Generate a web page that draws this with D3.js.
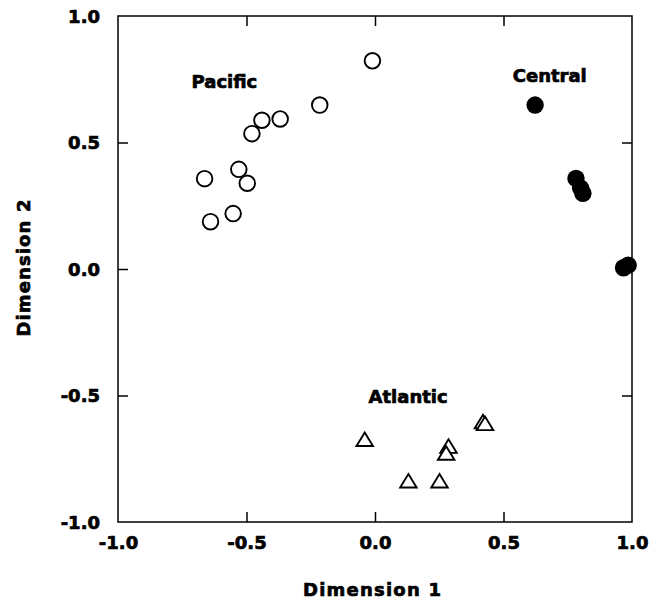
<!DOCTYPE html>
<html>
<head>
<meta charset="utf-8">
<script src="https://cdn.jsdelivr.net/npm/d3@7"></script>
<style>
  html, body { margin: 0; padding: 0; background: #fff; }
  svg { display: block; }
  text { font-family: "DejaVu Sans", sans-serif; font-weight: bold; fill: #000; }
</style>
</head>
<body>
<svg id="chart" width="664" height="602"></svg>
<script>
// ---- data ----
const pacificX = [-0.010, -0.215, -0.369, -0.440, -0.479, -0.663, -0.530, -0.497, -0.552, -0.640];
const pacificY = [ 0.823,  0.648,  0.593,  0.588,  0.535,  0.357,  0.394,  0.339,  0.219,  0.187];
const centralX = [0.623, 0.782, 0.800, 0.809, 0.967, 0.985];
const centralY = [0.648, 0.358, 0.320, 0.299, 0.005, 0.015];
const atlanticX = [-0.040, 0.130, 0.251, 0.286, 0.277, 0.420, 0.428];
const atlanticY = [-0.673, -0.837, -0.837, -0.700, -0.727, -0.603, -0.610];
const groupNames = ["Pacific", "Central", "Atlantic"];
const groupLabelX = [-0.586, 0.680, 0.129];
const groupLabelY = [0.715, 0.740, -0.531];
const tickValues = [-1.0, -0.5, 0.0, 0.5, 1.0];
const xTitle = "Dimension  1";
const yTitle = "Dimension  2";

// ---- layout ----
const svg = d3.select("#chart");
const x = d3.scaleLinear().domain([-1, 1]).range([118, 632]);
const y = d3.scaleLinear().domain([-1, 1]).range([522, 16]);
const fmt = v => d3.format(".1f")(v).replace("\u2212", "-");
const tickLen = 10;
const fontSize = 18;
const textStroke = 0.7;

// frame
svg.append("rect")
  .attr("x", x(-1)).attr("y", y(1))
  .attr("width", x(1) - x(-1)).attr("height", y(-1) - y(1))
  .attr("fill", "none").attr("stroke", "#000").attr("stroke-width", 1.5);

// axes with inward ticks
const bottomAxis = svg.append("g").attr("transform", `translate(0,${y(-1)})`)
  .call(d3.axisBottom(x).tickValues(tickValues).tickSize(-tickLen).tickPadding(20).tickFormat(fmt));
const leftAxis = svg.append("g").attr("transform", `translate(${x(-1)},0)`)
  .call(d3.axisLeft(y).tickValues(tickValues).tickSize(-tickLen).tickPadding(18).tickFormat(fmt));
const topAxis = svg.append("g").attr("transform", `translate(0,${y(1)})`)
  .call(d3.axisTop(x).tickValues(tickValues).tickSize(-tickLen).tickFormat(""));
const rightAxis = svg.append("g").attr("transform", `translate(${x(1)},0)`)
  .call(d3.axisRight(y).tickValues(tickValues).tickSize(-tickLen).tickFormat(""));

[bottomAxis, leftAxis, topAxis, rightAxis].forEach(g => {
  g.select(".domain").remove();
  g.selectAll(".tick line").attr("stroke", "#000").attr("stroke-width", 1.5);
  g.selectAll("text")
    .attr("font-family", "DejaVu Sans, sans-serif")
    .attr("font-weight", "bold")
    .attr("font-size", fontSize)
    .attr("fill", "#000")
    .attr("stroke", "#000").attr("stroke-width", textStroke);
  g.selectAll(".tick").filter(d => Math.abs(d) === 1).select("line").remove();
});
bottomAxis.selectAll("text").attr("dy", "0.71em").attr("y", 14.5);
leftAxis.selectAll("text").attr("dy", "0.36em");

// axis titles
svg.append("text")
  .attr("x", 372).attr("y", 596)
  .attr("text-anchor", "middle")
  .attr("font-size", fontSize)
  .attr("stroke", "#000").attr("stroke-width", textStroke)
  .attr("textLength", 138).attr("lengthAdjust", "spacing")
  .text(xTitle);
svg.append("text")
  .attr("transform", `translate(30,268) rotate(-90)`)
  .attr("text-anchor", "middle")
  .attr("font-size", fontSize)
  .attr("stroke", "#000").attr("stroke-width", textStroke)
  .attr("textLength", 137).attr("lengthAdjust", "spacing")
  .text(yTitle);

// ---- marks ----
const pacific = pacificX.map((v, i) => [v, pacificY[i]]);
const central = centralX.map((v, i) => [v, centralY[i]]);
const atlantic = atlanticX.map((v, i) => [v, atlanticY[i]]);

svg.append("g").selectAll("circle").data(pacific).join("circle")
  .attr("cx", d => x(d[0])).attr("cy", d => y(d[1]))
  .attr("r", 7.8)
  .attr("fill", "#fff").attr("stroke", "#000").attr("stroke-width", 1.9);

svg.append("g").selectAll("circle").data(central).join("circle")
  .attr("cx", d => x(d[0])).attr("cy", d => y(d[1]))
  .attr("r", 8.7)
  .attr("fill", "#000");

const triW = 16.5, triH = 13.5;
const triPath = `M0,${-triH/2}L${triW/2},${triH/2}L${-triW/2},${triH/2}Z`;
svg.append("g").selectAll("path").data(atlantic).join("path")
  .attr("transform", d => `translate(${x(d[0])},${y(d[1])})`)
  .attr("d", triPath)
  .attr("fill", "#fff").attr("stroke", "#000").attr("stroke-width", 1.9)
  .attr("stroke-linejoin", "miter");

// group labels
svg.append("g").selectAll("text").data(groupNames).join("text")
  .attr("x", (d, i) => x(groupLabelX[i]))
  .attr("y", (d, i) => y(groupLabelY[i]))
  .attr("text-anchor", "middle")
  .attr("font-size", fontSize)
  .attr("stroke", "#000").attr("stroke-width", textStroke)
  .text(d => d);
</script>
</body>
</html>
